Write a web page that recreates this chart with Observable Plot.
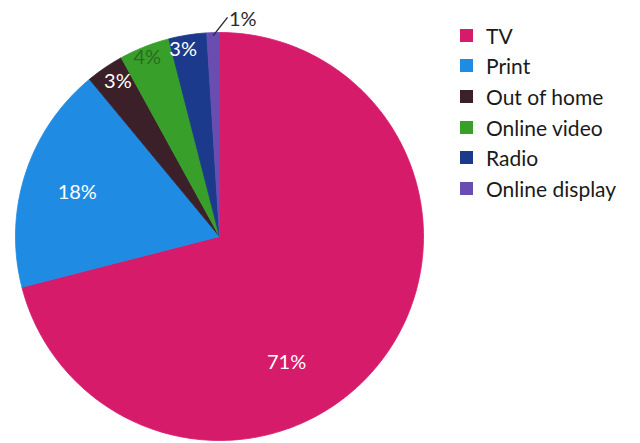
<!DOCTYPE html>
<html>
<head>
<meta charset="utf-8">
<script src="https://cdn.jsdelivr.net/npm/d3@7"></script>
<script src="https://cdn.jsdelivr.net/npm/@observablehq/plot@0.6"></script>
<style>
  html, body { margin: 0; padding: 0; background: #fff; }
  #wrap { position: relative; width: 640px; height: 443px; font-family: Lato, "DejaVu Sans", sans-serif; }
  #legend { position: absolute; left: 460px; top: 20px; }
  .row { display: flex; align-items: center; height: 30.6px; font-size: 21px; color: #1a1a1a; }
  .sw { width: 13px; height: 13px; margin-right: 13px; }
</style>
</head>
<body>
<div id="wrap"><div id="chart"></div><div id="legend"></div></div>
<script>
// ---- data ----
const categories = ["TV", "Print", "Out of home", "Online video", "Radio", "Online display"];
const values = [71, 18, 3, 4, 3, 1];
const labels = ["71%", "18%", "3%", "4%", "3%", "1%"];
const colors = ["#d71b6b", "#1f8be2", "#3b1f29", "#38a02a", "#1b3a8b", "#6a4db0"];
const labelColors = ["#ffffff", "#ffffff", "#ffffff", "#2d6a1f", "#ffffff", "#2a2a2a"];
// label placement (radius as fraction of pie radius, angle in degrees clockwise from 12 o'clock)
const labelRadius = [0.70, 0.73, 0.91, 0.945, 0.935, 1.07];
const labelAngle = [152.0, 287.2, 326.8, 338.0, 349.0, 6.1];

// ---- layout ----
const W = 640, H = 443, cx = 219, cy = 236, R = 204;

const pie = d3.pie().sort(null).value(d => d.value)(categories.map((c, i) => ({category: c, value: values[i]})));
const pts = [];
pie.forEach(p => {
  const c = p.data.category;
  pts.push({category: c, x: 0, y: 0});
  const n = Math.max(4, Math.ceil((p.endAngle - p.startAngle) / (Math.PI / 180)));
  for (let k = 0; k <= n; k++) {
    const a = p.startAngle + (p.endAngle - p.startAngle) * k / n;
    pts.push({category: c, x: Math.sin(a), y: Math.cos(a)});
  }
  pts.push({category: c, x: 0, y: 0});
});

const labelData = categories.map((c, i) => {
  const a = labelAngle[i] * Math.PI / 180;
  return {category: c, text: labels[i], color: labelColors[i], x: labelRadius[i] * Math.sin(a), y: labelRadius[i] * Math.cos(a)};
});

// leader for the smallest slice
const last = pie[pie.length - 1];
const mid = (last.startAngle + last.endAngle) / 2;
const endA = 2.1 * Math.PI / 180;
const leader = [{x1: 0.985 * Math.sin(mid), y1: 0.985 * Math.cos(mid), x2: 1.075 * Math.sin(endA), y2: 1.075 * Math.cos(endA)}];

const chart = Plot.plot({
  width: W, height: H,
  margin: 0,
  x: {domain: [-cx / R, (W - cx) / R], axis: null},
  y: {domain: [-(H - cy) / R, cy / R], axis: null},
  color: {domain: categories, range: colors},
  style: {fontFamily: "Lato, 'DejaVu Sans', sans-serif", background: "#fff"},
  marks: [
    Plot.line(pts, {x: "x", y: "y", z: "category", fill: "category", stroke: "category", strokeWidth: 0.8, curve: "linear"}),
    Plot.link(leader, {x1: "x1", y1: "y1", x2: "x2", y2: "y2", stroke: "#2a2a2a", strokeWidth: 1.4}),
    Plot.text(labelData, {x: "x", y: "y", text: "text", fill: "color", fontSize: 20})
  ]
});
document.getElementById("chart").appendChild(chart);

const legend = document.getElementById("legend");
categories.forEach((c, i) => {
  const row = document.createElement("div");
  row.className = "row";
  const sw = document.createElement("span");
  sw.className = "sw";
  sw.style.background = colors[i];
  const t = document.createElement("span");
  t.textContent = c;
  row.appendChild(sw); row.appendChild(t);
  legend.appendChild(row);
});
</script>
</body>
</html>
